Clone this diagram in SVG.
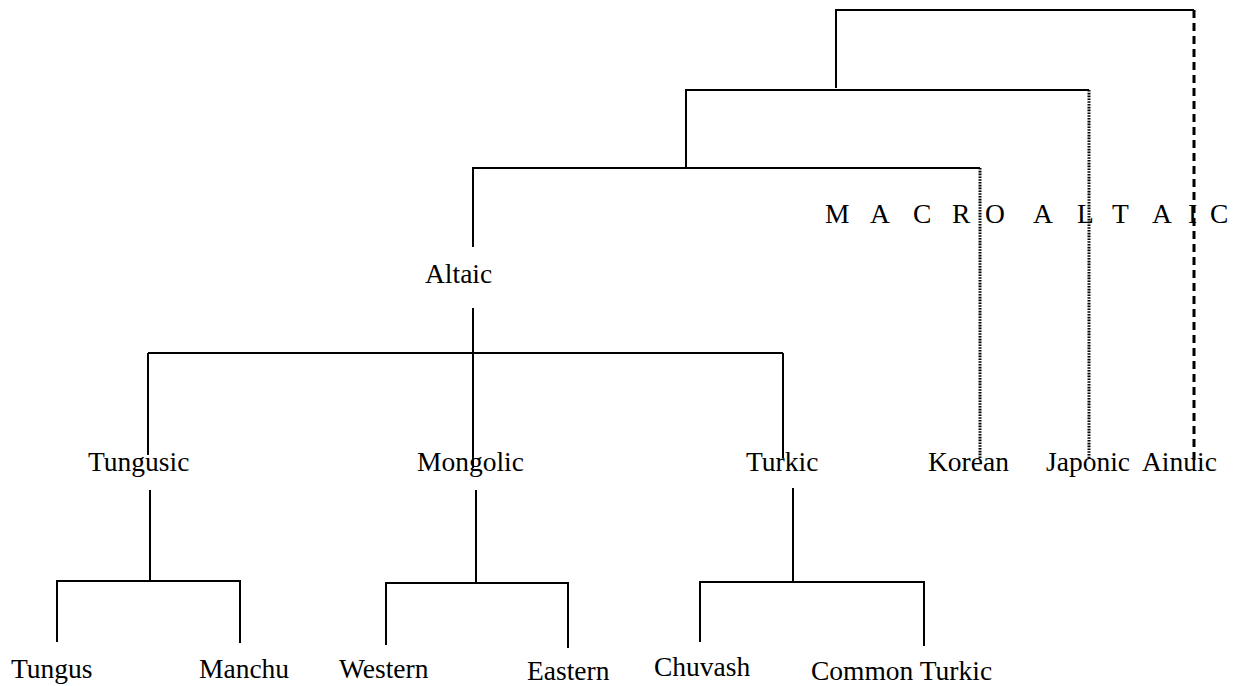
<svg xmlns="http://www.w3.org/2000/svg" width="1245" height="686" viewBox="0 0 1245 686">
<style>
text{font-family:"Liberation Serif","Times New Roman",serif;font-size:27.5px;fill:#000}
.ln{stroke:#000;stroke-width:2;fill:none}
.dot{stroke:#000;stroke-width:3;fill:none;stroke-dasharray:1.6 1.2}
.dash{stroke:#000;stroke-width:3;fill:none;stroke-dasharray:8 5}
</style>
<rect width="1245" height="686" fill="#fff"/>
<g id="connectors">
<polyline class="ln" points="836,88 836,10 1194,10"/>
<line class="dash" x1="1194" y1="10" x2="1194" y2="460"/>
<polyline class="ln" points="686,168 686,90 1089,90"/>
<line class="dot" x1="1089" y1="90" x2="1089" y2="459"/>
<polyline class="ln" points="473,247 473,168 980,168"/>
<line class="dot" x1="980" y1="168" x2="980" y2="459"/>
<line class="ln" x1="473" y1="308" x2="473" y2="468"/>
<line class="ln" x1="148" y1="353" x2="783" y2="353"/>
<line class="ln" x1="148" y1="353" x2="148" y2="455"/>
<line class="ln" x1="783" y1="353" x2="783" y2="458"/>
<line class="ln" x1="150" y1="490" x2="150" y2="581"/>
<polyline class="ln" points="57,642 57,581 240,581 240,643"/>
<line class="ln" x1="476" y1="490" x2="476" y2="583"/>
<polyline class="ln" points="386,645 386,583 568,583 568,648"/>
<line class="ln" x1="793" y1="488" x2="793" y2="582"/>
<polyline class="ln" points="700,642 700,582 924,582 924,646"/>
</g>
<g id="macro-altaic"><text y="223" x="825 850 870 892 913 933 952 972 985 1007 1033 1055 1077 1095 1112 1134 1152 1174 1188 1198 1210">M A C R O A L T A I C</text></g>
<g id="altaic"><text x="425" y="283">Altaic</text></g>
<g id="tungusic"><text x="88" y="471">Tungusic</text></g>
<g id="mongolic"><text x="417" y="471">Mongolic</text></g>
<g id="turkic"><text x="746" y="471">Turkic</text></g>
<g id="korean"><text x="928" y="471">Korean</text></g>
<g id="japonic"><text x="1046" y="471">Japonic</text></g>
<g id="ainuic"><text x="1142" y="471">Ainuic</text></g>
<g id="tungus"><text x="11" y="678">Tungus</text></g>
<g id="manchu"><text x="199" y="678">Manchu</text></g>
<g id="western"><text x="339" y="678">Western</text></g>
<g id="eastern"><text x="527" y="680">Eastern</text></g>
<g id="chuvash"><text x="654" y="676">Chuvash</text></g>
<g id="common-turkic"><text x="811" y="680">Common Turkic</text></g>
</svg>
